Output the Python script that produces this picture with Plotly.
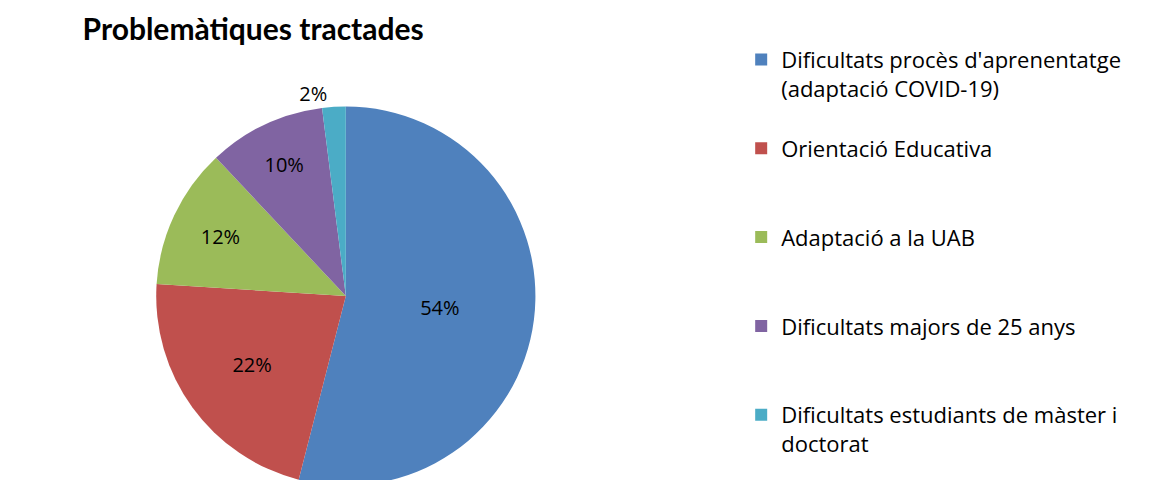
import plotly.graph_objects as go

categories = [
    "Dificultats procès d'aprenentatge (adaptació COVID-19)",
    "Orientació Educativa",
    "Adaptació a la UAB",
    "Dificultats majors de 25 anys",
    "Dificultats estudiants de màster i doctorat",
]
legend_labels = [
    "Dificultats procès d'aprenentatge<br>(adaptació COVID-19)",
    "Orientació Educativa",
    "Adaptació a la UAB",
    "Dificultats majors de 25 anys",
    "Dificultats estudiants de màster i<br>doctorat",
]
values = [54, 22, 12, 10, 2]
colors = ["#4F81BD", "#C0504D", "#9BBB59", "#8064A2", "#4BACC6"]
text_positions = ["inside", "inside", "inside", "inside", "outside"]

# pad legend entries so each occupies three lines (as in the reference spacing)
def pad(lbl, lines=3):
    n = lbl.count("<br>") + 1
    return lbl + "<br>\u00a0" * max(0, lines - n) if lbl != legend_labels[-1] else lbl

labels_padded = [pad(l) for l in legend_labels]

FONT = "'Open Sans', Lato, sans-serif"
TITLE_FONT = "Lato, 'Open Sans', sans-serif"

fig = go.Figure(
    go.Pie(
        labels=labels_padded,
        values=values,
        customdata=categories,
        sort=False,
        direction="clockwise",
        rotation=0,
        marker=dict(colors=colors, line=dict(width=0)),
        textinfo="percent",
        textposition=text_positions,
        textfont=dict(family=FONT, size=20, color="#000000"),
        insidetextorientation="horizontal",
        hovertemplate="%{customdata}: %{value} (%{percent})<extra></extra>",
        domain=dict(x=[0.0, 0.587], y=[0.005, 0.795]),
    )
)

fig.update_layout(
    width=1151,
    height=480,
    margin=dict(l=0, r=0, t=0, b=0, autoexpand=False),
    paper_bgcolor="white",
    plot_bgcolor="white",
    title=dict(
        text="<b>Problemàtiques tractades</b>",
        x=0.213,
        xanchor="center",
        y=0.955,
        yanchor="middle",
        font=dict(family=TITLE_FONT, size=30, color="#000000"),
    ),
    legend=dict(
        x=0.637,
        xanchor="left",
        y=0.936,
        yanchor="top",
        valign="top",
        font=dict(family=FONT, size=22, color="#000000"),
        bgcolor="rgba(0,0,0,0)",
        traceorder="normal",
    ),
    showlegend=True,
)

fig.write_html("out.html")
